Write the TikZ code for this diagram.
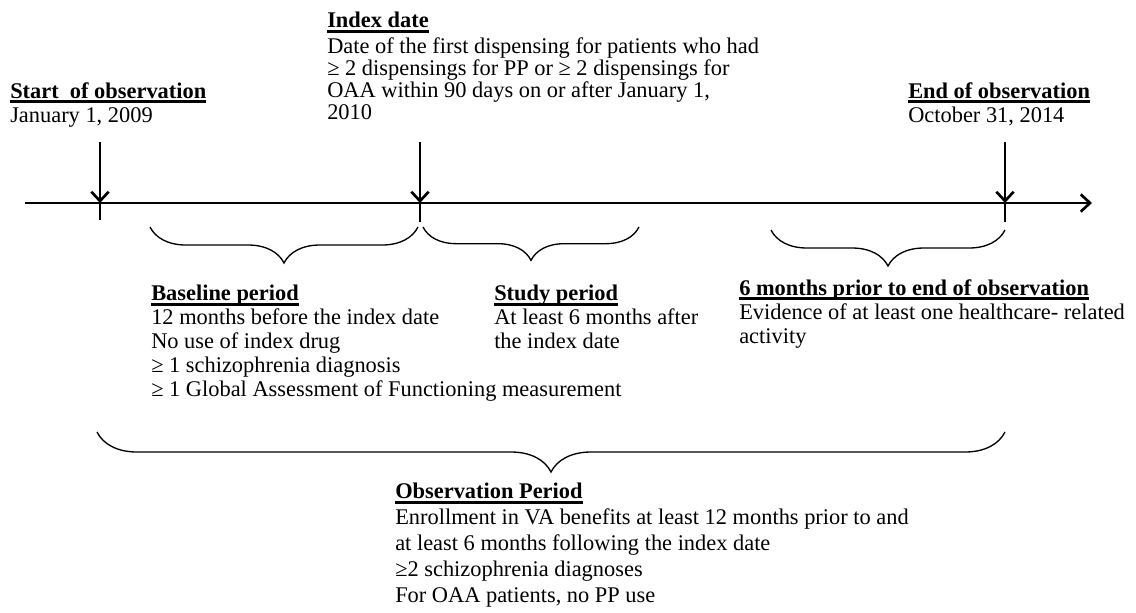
\documentclass[tikz,border=0pt]{standalone}
\usepackage{fontspec}
\setmainfont{Liberation Serif}
\usepackage{tikz}
\usetikzlibrary{arrows.meta, decorations.pathreplacing, positioning, calc}

% bold heading with a Word-like underline
\newcommand{\ulhead}[1]{\setbox0\hbox{\bfseries #1}\rlap{\rule[-3.6pt]{\wd0}{1.8pt}}\box0}

\begin{document}
\begin{tikzpicture}[x=0.75pt, y=-0.75pt]
        % Styles (blocks are placed by their top left corner, 15px above the first baseline)
        \tikzstyle{textblock} = [anchor=north west, inner sep=0pt, align=left, font=\fontsize{16.8pt}{18pt}\selectfont]
        \tikzstyle{tight} = [textblock, font=\fontsize{16.8pt}{16.5pt}\selectfont]
        \tikzstyle{timeline} = [line width=2pt, -{Straight Barb[length=7pt, width=13pt, line width=2pt]}]
        \tikzstyle{arrow} = [line width=2pt, -{Straight Barb[length=7pt, width=13pt, line width=2pt]}]
        \tikzstyle{tickline} = [line width=2pt]
        \tikzstyle{period} = [line width=1pt, decorate, decoration={brace, mirror, amplitude=#1}]

        \useasboundingbox (0,0) rectangle (1136,612);

        % Timeline points
        \coordinate (left) at (25,203);
        \coordinate (right) at (1092,203);
        \coordinate (t0) at (100,203);
        \coordinate (t1) at (420,203);
        \coordinate (t2) at (1005,203);

        % Nodes
        \node[textblock] (startobs) at (10,82) {\ulhead{Start\ \ of observation}\\January 1, 2009};
        \node[tight] (indexdate) at (327,12) {\ulhead{Index date}\\[3pt]Date of the first dispensing for patients who had\\%
            ≥ 2 dispensings for PP or ≥ 2 dispensings for\\OAA within 90 days on or after January 1,\\2010};
        \node[textblock] (endobs) at (908,82) {\ulhead{End of observation}\\October 31, 2014};

        \node[textblock] (baseline) at (151,285) {\ulhead{Baseline period}\\12 months before the index date\\No use of index drug\\%
            ≥ 1 schizophrenia diagnosis\\≥ 1 Global Assessment of Functioning measurement};
        \node[textblock] (study) at (494,285) {\ulhead{Study period}\\At least 6 months after\\the index date};
        \node[textblock] (lastsix) at (739,279) {\ulhead{6 months prior to end of observation}\\Evidence of at least one healthcare- related\\activity};
        \node[textblock, font=\fontsize{16.8pt}{19.5pt}\selectfont] (obsperiod) at (395,483) {\ulhead{Observation Period}\\%
            Enrollment in VA benefits at least 12 months prior to and\\at least 6 months following the index date\\%
            ≥2 schizophrenia diagnoses\\For OAA patients, no PP use};

        % Arrows
        \draw[timeline] (left) -- (right);
        \draw[arrow] (t0 |- 0,142) -- (t0);
        \draw[arrow] (t1 |- 0,142) -- (t1);
        \draw[arrow] (t2 |- 0,142) -- (t2);
        \draw[tickline] (t0) -- ++(0,17);
        \draw[tickline] (t1) -- ++(0,19);
        \draw[tickline] (t2) -- ++(0,19);

        % Braces
        \draw[period=27pt] (150,227) -- (418,227);
        \draw[period=25pt] (423,227) -- (639,227);
        \draw[period=27pt] (771,230) -- (1005,230);
        \draw[period=30pt] (97,432) -- (1005,432);

\end{tikzpicture}
\end{document}
